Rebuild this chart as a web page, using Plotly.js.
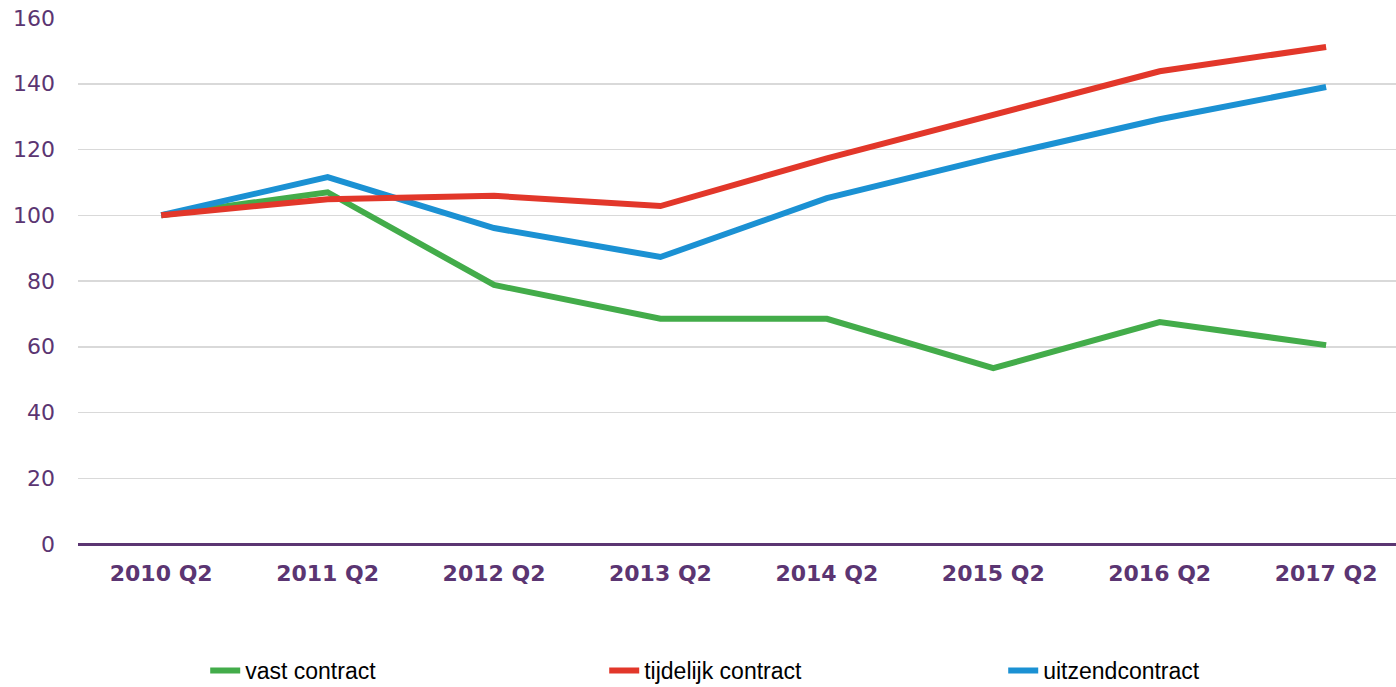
<!DOCTYPE html>
<html>
<head>
<meta charset="utf-8">
<script src="https://cdn.plot.ly/plotly-3.0.1.min.js"></script>
<style>html,body{margin:0;padding:0;background:#fff;}#chart{width:1396px;height:687px;}</style>
</head>
<body>
<div id="chart"></div>
<script>
const categories = ["2010 Q2","2011 Q2","2012 Q2","2013 Q2","2014 Q2","2015 Q2","2016 Q2","2017 Q2"];
const vastContract = [100, 107, 78.8, 68.5, 68.5, 53.5, 67.5, 60.5];
const tijdelijkContract = [100, 104.9, 105.9, 102.8, 117.3, 130.7, 143.8, 151.2];
const uitzendContract = [100, 111.6, 96.1, 87.3, 105.2, 117.6, 129.2, 139];
const seriesNames = ["vast contract","tijdelijk contract","uitzendcontract"];
const yTicks = [0,20,40,60,80,100,120,140,160];

const colors = ["#43AC4A","#E2372A","#1B91D3"];
function tr(y, i, rank){
  return {x: categories, y: y, name: seriesNames[i], type: "scatter", mode: "lines",
    line: {color: colors[i], width: 6}, legendrank: rank, hoverinfo: "y"};
}
const data = [tr(vastContract,0,1), tr(uitzendContract,2,3), tr(tijdelijkContract,1,2)];
const purple = "#5B3572";
const layout = {
  width: 1396, height: 687,
  margin: {l: 78, r: 0, t: 18, b: 143},
  paper_bgcolor: "#fff", plot_bgcolor: "#fff",
  showlegend: true,
  legend: {orientation: "h", xref: "container", yref: "container",
    x: 0.147, xanchor: "left", y: 0.024, yanchor: "middle",
    font: {family: "Liberation Sans Narrow, Liberation Sans, Arial", size: 23, color: "#000"},
    entrywidth: 354, entrywidthmode: "pixels", traceorder: "normal", itemwidth: 30},
  xaxis: {type: "category", range: [-0.5, 7.42], showgrid: false, zeroline: false,
    showline: false, ticks: "",
    tickfont: {family: "DejaVu Sans, Verdana", size: 22, color: purple, weight: "bold"},
    ticklabelstandoff: 14},
  yaxis: {range: [0, 160], tickvals: yTicks, ticktext: yTicks.map(String),
    showgrid: true, gridcolor: "#d9d9d9", gridwidth: 1.5,
    zeroline: true, zerolinecolor: purple, zerolinewidth: 3,
    showline: false, ticks: "",
    tickfont: {family: "DejaVu Sans, Verdana", size: 22, color: purple},
    ticklabelstandoff: 22},
};
Plotly.newPlot("chart", data, layout, {displayModeBar: false, staticPlot: true});
</script>
</body>
</html>
